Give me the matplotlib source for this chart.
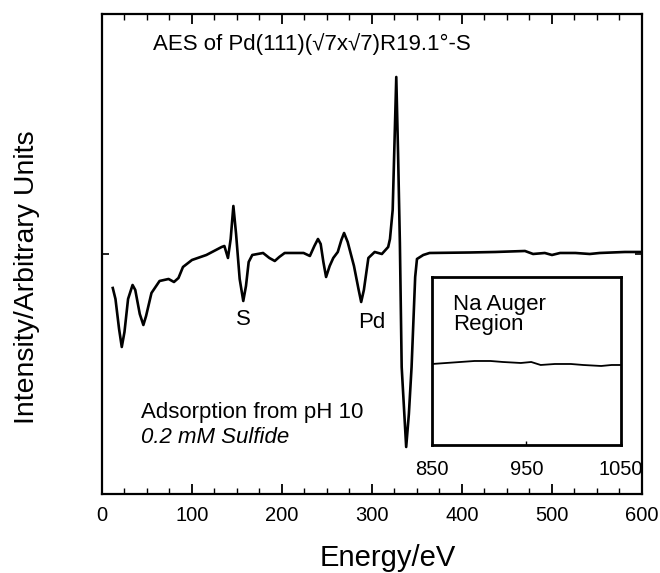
import matplotlib
matplotlib.use("Agg")
import matplotlib.pyplot as plt
from matplotlib.ticker import MultipleLocator

plt.rcParams["font.family"] = ["Liberation Sans", "DejaVu Sans"]

# main AES spectrum (energy in eV, intensity in arbitrary units, baseline = 0)
energy = [12, 15, 19, 22, 25, 29, 34, 37, 42, 46, 49, 55, 64, 74, 80, 85, 90,
          100, 116, 133, 136, 140, 143, 146, 149, 153, 157, 160, 163, 167, 179,
          186, 192, 197, 203, 224, 231, 236, 240, 243, 246, 249, 253, 257, 262,
          266, 269, 273, 280, 285, 288, 291, 296, 303, 311, 318, 320, 323, 327,
          329, 331, 333, 338, 341, 344, 348, 350, 357, 364, 409, 437, 470, 479,
          492, 500, 509, 526, 542, 553, 581, 598]
intensity = [-34, -45, -75, -93, -78, -45, -31, -36, -60, -71, -62, -39, -27,
             -25, -28, -24, -13, -6, -1, 7, 8, -4, 15, 48, 20, -25, -47, -32,
             -8, -1, 1, -4, -7, -3, 1, 1, -2, 8, 15, 10, -8, -23, -12, -4, 2,
             14, 21, 12, -12, -35, -48, -36, -4, 2, 0, 7, 15, 44, 177, 100, 11,
             -113, -193, -160, -113, -23, -5, -1, 1, 1.5, 2, 3, 0, 1, -1, 1, 1,
             0, 1, 2, 2]

# Na Auger region inset
na_energy = [850, 865, 880, 895, 912, 925, 944, 955, 965, 980, 997, 1010, 1029, 1040, 1050]
na_intensity = [-3, -2, -1, 0, 0, -1, -2, -1, -4, -3, -3, -4, -5, -4, -4]

peak_labels = [("S", 157, -66), ("Pd", 300, -69)]

fig = plt.figure(figsize=(6.6, 5.73), dpi=100)
ax = fig.add_axes([0.1545, 0.1379, 0.8182, 0.8377])
ax.plot(energy, intensity, color="black", lw=1.9, solid_joinstyle="round")
ax.set_xlim(0, 600)
ax.set_ylim(-240, 240)
ax.xaxis.set_major_locator(MultipleLocator(100))
ax.xaxis.set_minor_locator(MultipleLocator(25))
ax.set_yticks([0])
ax.set_yticklabels([])
ax.tick_params(axis="x", which="major", direction="in", length=7, width=1.3,
               top=True, labelsize=14.5, pad=9)
ax.tick_params(axis="x", which="minor", direction="in", length=4, width=1.0, top=True)
ax.tick_params(axis="y", direction="in", length=5, width=1.2, right=True)
for s in ax.spines.values():
    s.set_linewidth(1.6)
ax.set_xlabel("Energy/eV", fontsize=21)
ax.xaxis.set_label_coords(0.53, -0.104)
ax.set_ylabel("Intensity/Arbitrary Units", fontsize=20.5)
ax.yaxis.set_label_coords(-0.115, 0.452)

ax.text(57, 210, "AES of Pd(111)(\u221a7x\u221a7)R19.1\u00b0-S", fontsize=16, va="center")
for lab, x, y in peak_labels:
    ax.text(x, y, lab, fontsize=16, ha="center", va="center")
ax.text(43, -159, "Adsorption from pH 10", fontsize=16, va="center")
ax.text(43, -184, "0.2 mM Sulfide", fontsize=16, va="center", style="italic")

ins = fig.add_axes([0.6545, 0.2234, 0.2864, 0.2932])
ins.plot(na_energy, na_intensity, color="black", lw=1.3)
ins.set_xlim(850, 1050)
ins.set_ylim(-84, 84)
ins.set_xticks([850, 950, 1050])
ins.set_yticks([])
ins.tick_params(axis="x", direction="in", length=3, width=1.0, labelsize=14.5, pad=11)
for s in ins.spines.values():
    s.set_linewidth(2.0)
ins.text(872, 67, "Na Auger\nRegion", fontsize=16, va="top", linespacing=0.95)

fig.savefig("out.png", dpi=100)
